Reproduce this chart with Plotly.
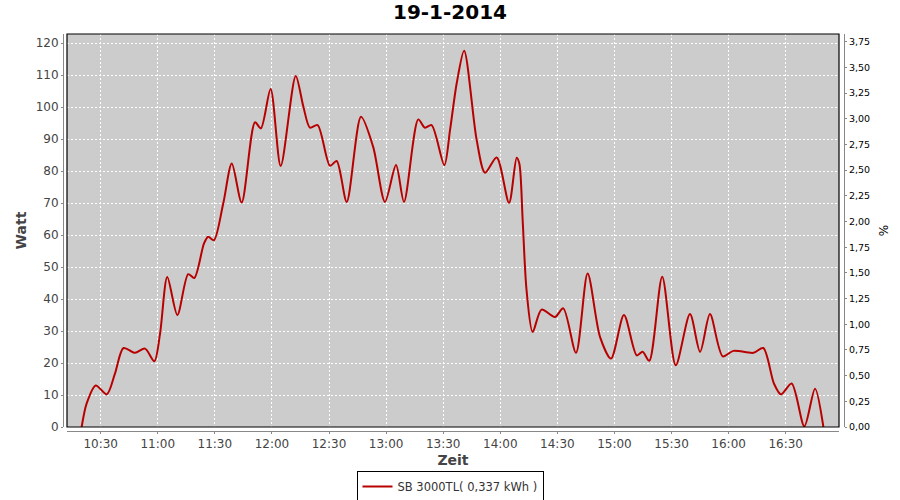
import plotly.graph_objects as go

DAY = "2014-01-19 "

times = [
    "10:20:00", "10:22:36", "10:27:24", "10:33:10", "10:37:30", "10:42:00",
    "10:48:00", "10:53:18", "10:58:12", "11:01:12", "11:05:00", "11:10:18",
    "11:16:00", "11:19:12", "11:24:18", "11:26:30", "11:29:30", "11:34:24",
    "11:38:54", "11:44:06", "11:51:06", "11:54:12", "11:59:18", "12:04:36",
    "12:12:30", "12:16:30", "12:20:00", "12:24:00", "12:30:30", "12:34:00",
    "12:39:18", "12:46:48", "12:53:12", "12:59:24", "13:05:12", "13:09:24",
    "13:16:54", "13:20:24", "13:23:54", "13:30:36", "13:33:36", "13:37:06",
    "13:41:00", "13:47:36", "13:52:00", "13:58:06", "14:04:36", "14:08:36",
    "14:10:00", "14:11:48", "14:13:48", "14:17:00", "14:21:42", "14:28:42",
    "14:33:06", "14:39:48", "14:45:54", "14:52:24", "14:58:12", "15:05:00",
    "15:11:42", "15:14:48", "15:18:18", "15:25:06", "15:32:12", "15:39:42",
    "15:45:00", "15:50:12", "15:56:54", "16:02:30", "16:13:00", "16:18:12",
    "16:23:48", "16:27:30", "16:33:06", "16:39:48", "16:45:24", "16:49:48",
]
watt = [
    0.0, 7.3, 13.0, 10.2, 16.7, 24.7,
    23.2, 24.5, 20.6, 29.2, 46.9, 35.0,
    47.8, 46.6, 57.4, 59.5, 58.4, 69.9,
    82.4, 70.2, 95.3, 93.4, 105.7, 81.6,
    109.8, 100.2, 93.6, 94.4, 81.7, 83.2,
    70.4, 97.0, 87.6, 70.4, 81.9, 70.4,
    96.2, 93.6, 94.4, 81.9, 92.9, 107.5,
    117.7, 89.7, 79.5, 84.3, 70.1, 84.2,
    82.4, 64.2, 42.8, 29.7, 36.7, 34.4,
    37.1, 23.2, 48.0, 28.2, 21.4, 35.0,
    22.4, 23.5, 20.7, 47.0, 19.3, 35.3,
    23.5, 35.3, 22.1, 23.8, 23.2, 24.7,
    13.6, 10.2, 13.6, 0.2, 12.0, 0.0,
]

series_name = "SB 3000TL( 0,337 kWh )"
chart_title = "19-1-2014"
x_title = "Zeit"
y_title = "Watt"
y2_title = "%"

x_range = [DAY + "10:12:18", DAY + "16:58:00"]
y_range = [0, 122.9]
y2_range = [0, 3.825]

FONT = "DejaVu Sans"
TICKC = "#444444"

fig = go.Figure()
fig.add_trace(go.Scatter(
    x=[DAY + t for t in times], y=watt, mode="lines", name=series_name,
    line=dict(color="#b80000", width=2, shape="spline", smoothing=0.8),
    yaxis="y",
))
fig.add_trace(go.Scatter(x=[], y=[], yaxis="y2", showlegend=False, hoverinfo="skip"))

fig.update_layout(
    width=900, height=500,
    margin=dict(l=63, r=56, t=34, b=69, autoexpand=False),
    paper_bgcolor="white", plot_bgcolor="#cccccc",
    separators=",.",
    font=dict(family=FONT, size=12, color=TICKC),
    title=dict(text=chart_title, x=0.5, xref="container", xanchor="center",
               y=1 - 12 / 500, yref="container", yanchor="middle",
               font=dict(family=FONT, size=20, color="black", weight="bold")),
    xaxis=dict(
        type="date", range=x_range, domain=[4 / 781, 776 / 781],
        anchor="free", position=0,
        tickformat="%H:%M", dtick=1800000, tick0=DAY + "10:30:00",
        showline=True, linecolor="#888888", linewidth=1,
        ticks="outside", ticklen=2, tickcolor="#888888",
        tickfont=dict(family=FONT, size=12, color=TICKC),
        showgrid=True, gridcolor="white", griddash="2px,2px", gridwidth=1,
        zeroline=False,
        title=dict(text=x_title, standoff=4,
                   font=dict(family=FONT, size=14, color=TICKC, weight="bold")),
    ),
    yaxis=dict(
        range=y_range, domain=[4 / 397, 1], anchor="free", position=0,
        dtick=10, tick0=0,
        showline=True, linecolor="#888888", linewidth=1,
        ticks="outside", ticklen=2, tickcolor="#888888",
        tickfont=dict(family=FONT, size=12, color=TICKC),
        showgrid=True, gridcolor="white", griddash="2px,2px", gridwidth=1,
        zeroline=False,
        title=dict(text=y_title, standoff=4,
                   font=dict(family=FONT, size=14, color=TICKC, weight="bold")),
    ),
    yaxis2=dict(
        range=y2_range, domain=[4 / 397, 1], overlaying="y", side="right",
        anchor="free", position=1,
        dtick=0.25, tick0=0, tickformat=".2f",
        showline=True, linecolor="#888888", linewidth=1,
        ticks="outside", ticklen=2, tickcolor="#888888",
        tickfont=dict(family=FONT, size=9.5, color="black"),
        showgrid=False, zeroline=False,
        title=dict(text=y2_title, standoff=10,
                   font=dict(family=FONT, size=12, color="black")),
    ),
    showlegend=True,
    legend=dict(
        orientation="h", x=0.5, xref="container", xanchor="center",
        y=1 - 471 / 500, yref="container", yanchor="top",
        bordercolor="black", borderwidth=1, bgcolor="white",
        font=dict(family=FONT, size=11.5, color="#333333"),
        itemwidth=30,
    ),
    shapes=[dict(type="rect", xref="x domain", yref="y domain",
                 x0=0, x1=1, y0=0, y1=1, line=dict(color="black", width=1.2),
                 fillcolor="rgba(0,0,0,0)", layer="above")],
)

fig.write_html("out.html", config={"displayModeBar": False},
               post_script="document.body.style.margin='0';document.body.style.padding='0';")
